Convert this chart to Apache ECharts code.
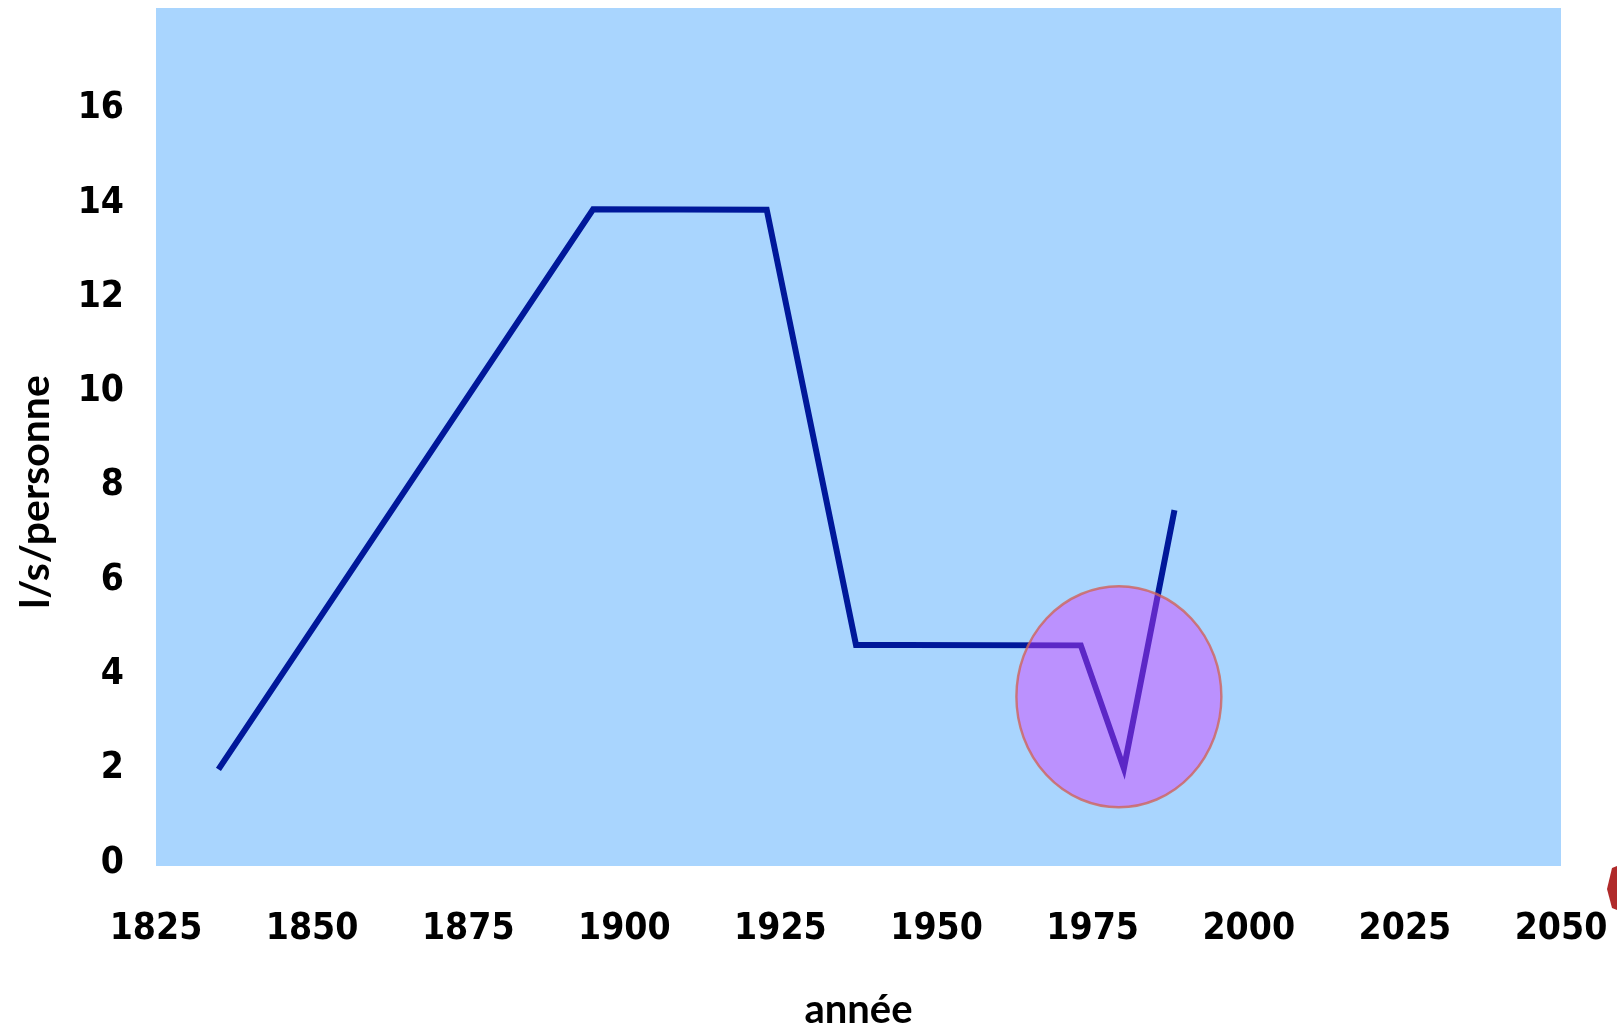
<!DOCTYPE html>
<html>
<head>
<meta charset="utf-8">
<script src="https://cdn.jsdelivr.net/npm/echarts@6/dist/echarts.min.js"></script>
<style>
html,body{margin:0;padding:0;background:#fff;}
#chart{width:1617px;height:1027px;}
</style>
</head>
<body>
<div id="chart"></div>
<script>
// Data
var years  = [1835, 1895, 1922.8, 1937.1, 1944.6, 1973.1, 1980, 1988.1];
var values = [2.05, 13.93, 13.92, 4.69, 4.69, 4.68, 2.07, 7.55];
var circleCenter = [1979.2, 3.59];
var xTickLabels = ['1825','1850','1875','1900','1925','1950','1975','2000','2025','2050'];
var yTickLabels = ['0','2','4','6','8','10','12','14','16'];
var xTitle = 'année';
var yTitle = 'l/s/personne';

var lineData = years.map(function (y, i) { return [y, values[i]]; });

var chart = echarts.init(document.getElementById('chart'), null, {renderer: 'canvas'});
var tickFont = {fontFamily: '"DejaVu Sans Condensed", "DejaVu Sans", sans-serif', fontWeight: 'bold', fontSize: 37, color: '#000'};

chart.setOption({
  animation: false,
  backgroundColor: '#ffffff',
  grid: {left: 156, right: 56, top: 8, bottom: 161, show: true, backgroundColor: '#a9d5fe', borderWidth: 0,
         containLabel: false, outerBoundsMode: 'none'},
  xAxis: {
    type: 'value', min: 1825, max: 2050, interval: 25,
    axisLine: {show: false}, axisTick: {show: false}, splitLine: {show: false},
    axisLabel: Object.assign({margin: 45, formatter: function (v) {
      var s = String(Math.round(v)); return xTickLabels.indexOf(s) >= 0 ? s : '';
    }}, tickFont),
    name: xTitle, nameLocation: 'middle', nameGap: 124,
    nameTextStyle: {fontFamily: 'Lato, "Open Sans", sans-serif', fontWeight: 'bold', fontSize: 40, color: '#000'}
  },
  yAxis: {
    type: 'value', min: 0, max: 18.2, interval: 2,
    axisLine: {show: false}, axisTick: {show: false}, splitLine: {show: false},
    axisLabel: Object.assign({margin: 32, verticalAlign: 'bottom', lineHeight: 6, formatter: function (v) {
      var s = String(Math.round(v)); return (Math.abs(v - Math.round(v)) < 1e-6 && yTickLabels.indexOf(s) >= 0) ? s : '';
    }}, tickFont)
  },
  graphic: [
    {type: 'text', x: 36, y: 492, rotation: Math.PI / 2,
     style: {text: yTitle, fontFamily: 'Lato, "Open Sans", sans-serif', fontWeight: 'bold', fontSize: 41, fill: '#000', align: 'center', verticalAlign: 'middle'}},
    {type: 'polygon', shape: {points: [[1617, 866], [1612, 868], [1607, 889], [1612, 908], [1617, 910]]},
     style: {fill: '#b02a2a'}}
  ],
  series: [
    {
      type: 'line', data: lineData, showSymbol: false, symbol: 'none', z: 2,
      lineStyle: {color: '#00189a', width: 6, join: 'miter', cap: 'butt'}
    },
    {
      type: 'scatter', data: [circleCenter], z: 5, symbol: 'circle', symbolSize: [205, 221],
      itemStyle: {color: 'rgba(210,60,255,0.55)', borderColor: '#d0645a', borderWidth: 2.5},
      silent: true
    }
  ]
});
</script>
</body>
</html>
